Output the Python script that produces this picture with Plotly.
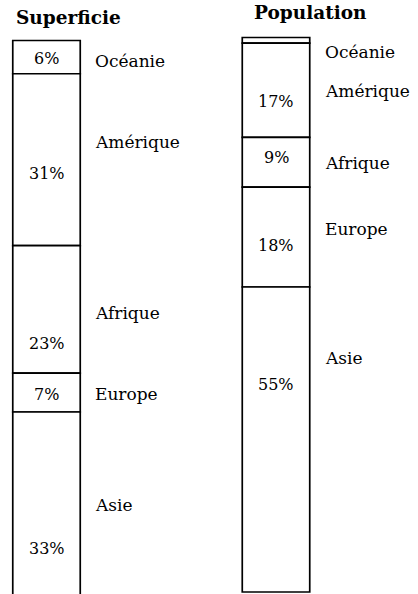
import plotly.graph_objects as go
import numpy as np

# ---- data ----
continents = ["Océanie", "Amérique", "Afrique", "Europe", "Asie"]
superficie = [6, 31, 23, 7, 33]
population = [1, 17, 9, 18, 55]
superficie_labels = ["6%", "31%", "23%", "7%", "33%"]
population_labels = ["", "17%", "9%", "18%", "55%"]
bar_names = ["Superficie", "Population"]

# ---- layout-only positions (axis units, % from top) ----
sup_pct_y = [3.2, 23.9, 54.7, 63.8, 91.7]
sup_name_y = [3.7, 18.3, 49.1, 63.8, 83.8]
pop_pct_y = [0, 11.5, 21.6, 37.6, 62.5]
pop_name_y = [2.6, 9.6, 22.6, 34.5, 57.8]

W, H = 418, 594
FONT = "DejaVu Serif"
BAR_W = 0.294

fig = go.Figure()

def add_bar(name, vals, yaxis):
    vals = np.array(vals, dtype=float)
    base = np.concatenate([[0], np.cumsum(vals)[:-1]])
    fig.add_trace(go.Bar(
        x=[name] * len(vals), y=vals, base=base, width=BAR_W,
        marker=dict(color="white", line=dict(color="black", width=1.7)),
        yaxis=yaxis, showlegend=False, hoverinfo="skip"))

add_bar(bar_names[0], superficie, "y2")
add_bar(bar_names[1], population, "y")

ann = []
def labels(name, pct, pct_y, name_y, yref):
    for c, p, py, ny in zip(continents, pct, pct_y, name_y):
        if p:
            ann.append(dict(x=name, y=py, xref="x", yref=yref, text=p, showarrow=False,
                            xanchor="center", yanchor="middle",
                            font=dict(family=FONT, size=16, color="black")))
        ann.append(dict(x=name, y=ny, xref="x", yref=yref, text=c, showarrow=False,
                        xanchor="left", yanchor="middle", xshift=BAR_W / 2 * 229.5 + 13,
                        font=dict(family=FONT, size=17, color="black")))

labels(bar_names[0], superficie_labels, sup_pct_y, sup_name_y, "y2")
labels(bar_names[1], population_labels, pop_pct_y, pop_name_y, "y")

# titles
ann.append(dict(x=68.5 / W, y=1 - 17 / H, xref="paper", yref="paper", text="<b>Superficie</b>",
                showarrow=False, xanchor="center", yanchor="middle",
                font=dict(family=FONT, size=18.5, color="black")))
ann.append(dict(x=310 / W, y=1 - 12 / H, xref="paper", yref="paper", text="<b>Population</b>",
                showarrow=False, xanchor="center", yanchor="middle",
                font=dict(family=FONT, size=18.5, color="black")))

scale = 5.545
fig.update_layout(
    width=W, height=H, margin=dict(l=0, r=0, t=0, b=0),
    paper_bgcolor="white", plot_bgcolor="white",
    barmode="overlay",
    xaxis=dict(type="category", categoryorder="array", categoryarray=bar_names,
               range=[-46.5 / 229.5, 1 + (W - 276) / 229.5], visible=False),
    yaxis=dict(range=[(H - 37.5) / scale, -37.5 / scale], visible=False),
    yaxis2=dict(range=[(H - 40.5) / scale, -40.5 / scale], visible=False,
                overlaying="y", side="left"),
    annotations=ann,
)

fig.write_html("out.html", config={"displayModeBar": False},
               post_script="document.body.style.margin='0';")
